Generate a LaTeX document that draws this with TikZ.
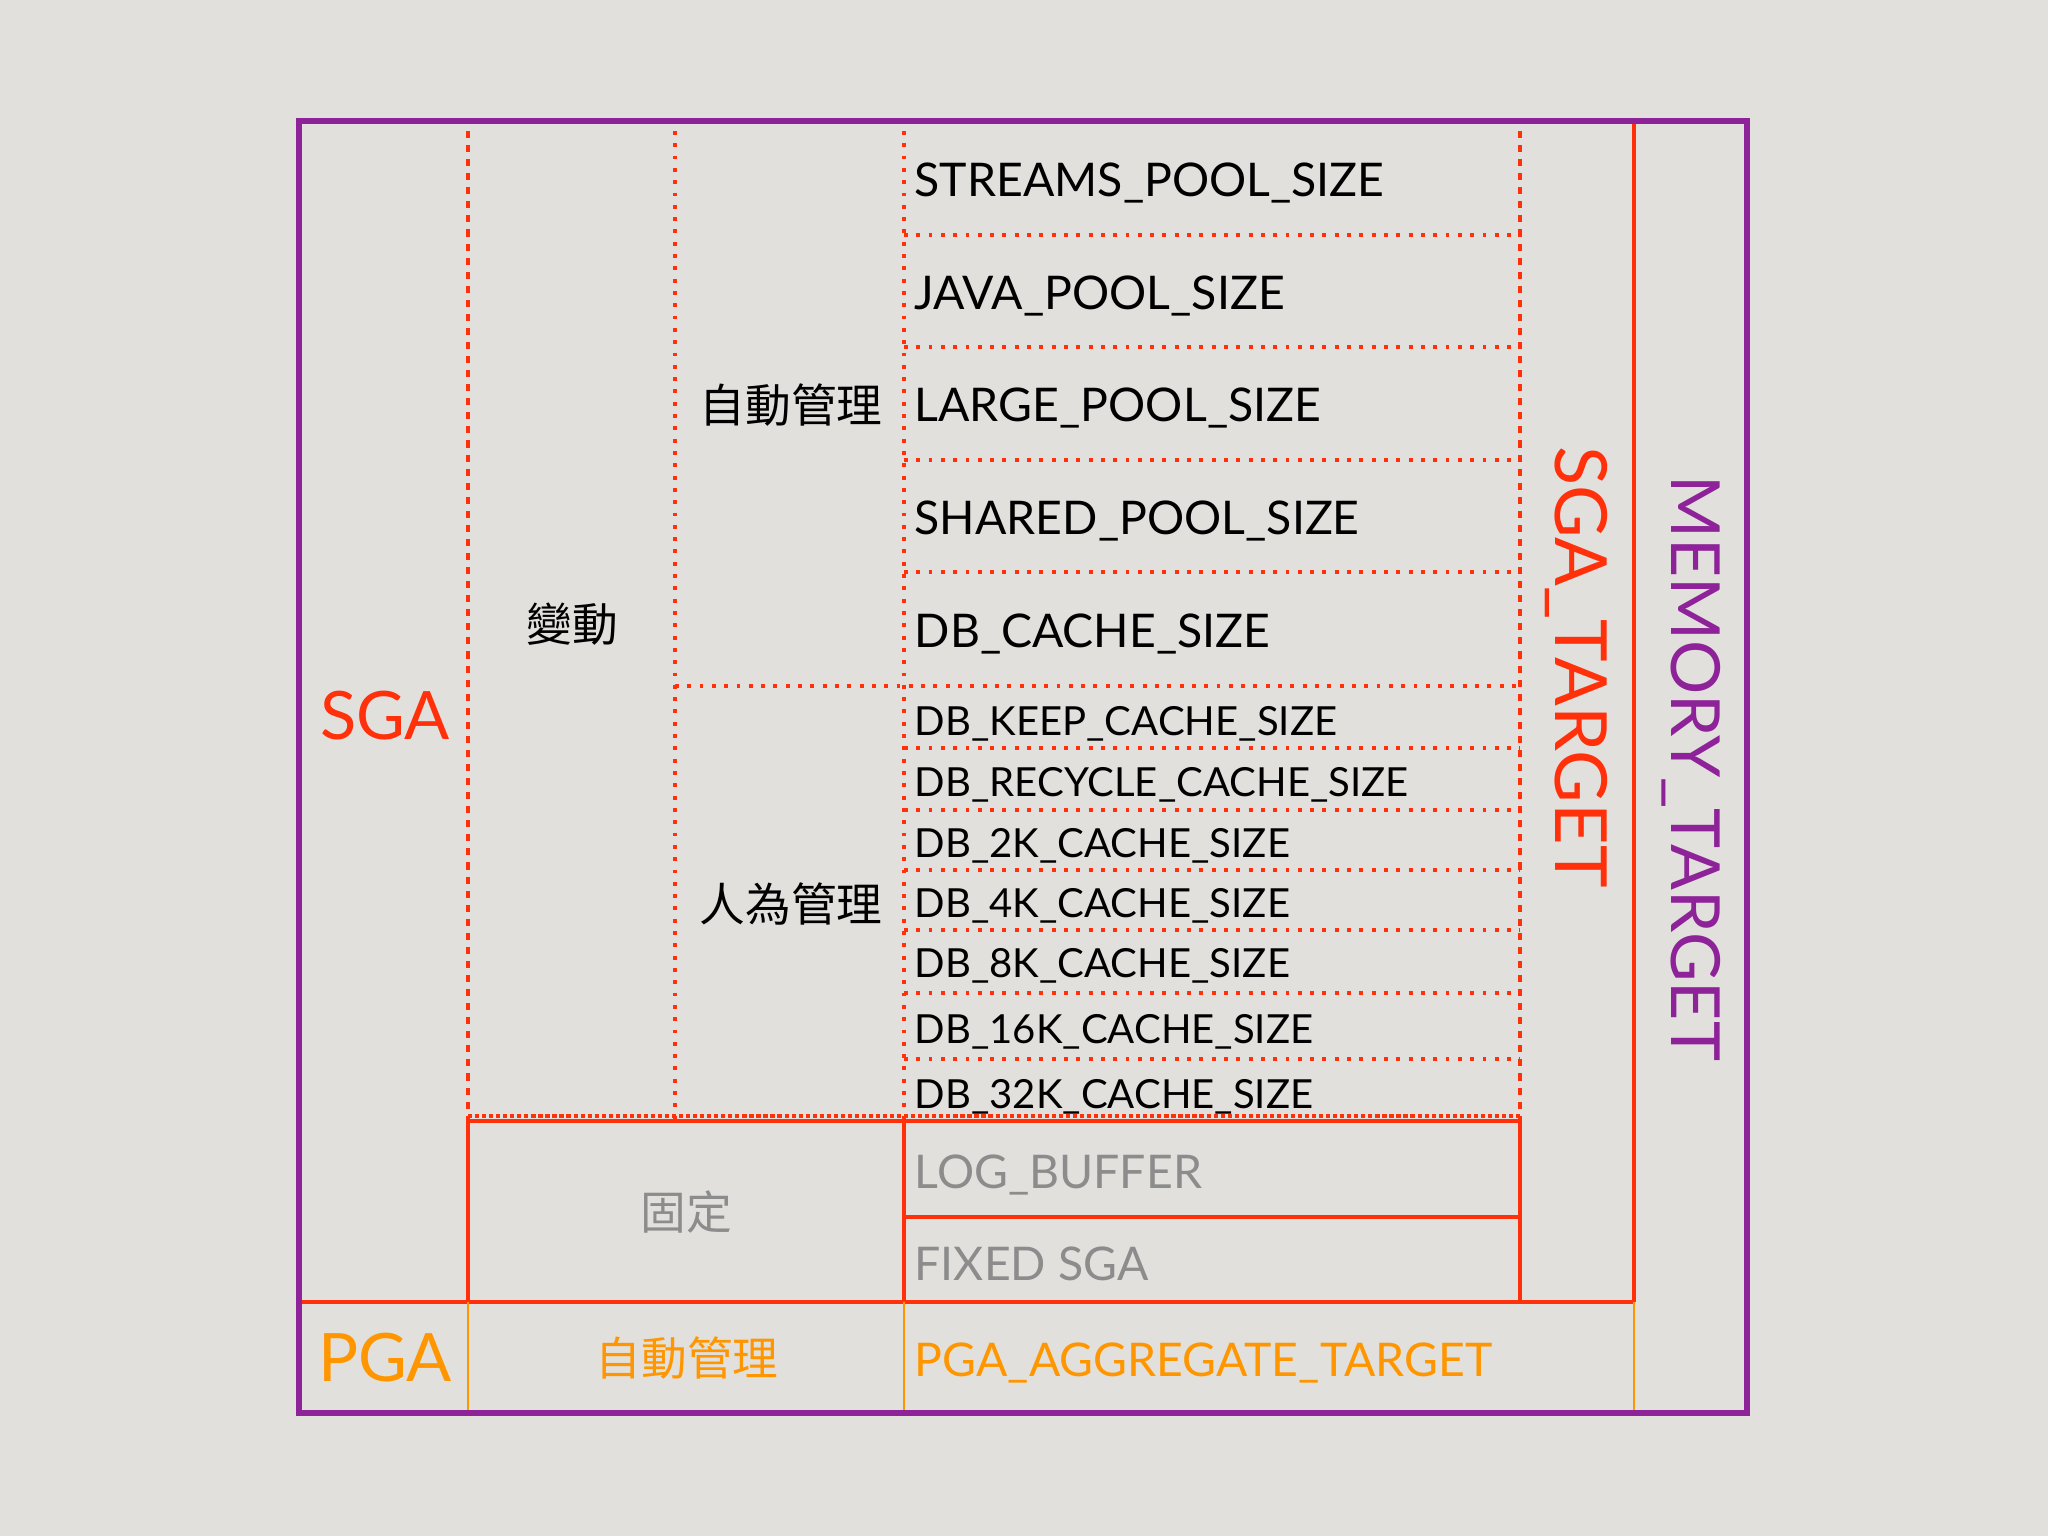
\documentclass[tikz,border=0pt]{standalone}
\usepackage{fontspec}
\setmainfont{Lato}
\newfontfamily\cjk{Noto Sans CJK TC}
\definecolor{memPurple}{RGB}{142,34,152}
\definecolor{sgaRed}{RGB}{255,48,10}
\definecolor{pgaOrange}{RGB}{255,150,0}
\definecolor{fixGray}{RGB}{140,140,140}
\definecolor{paper}{RGB}{226,224,221}

\begin{document}
\begin{tikzpicture}[
						x=0.01cm, y=-0.01cm,
						param/.style = {anchor=base west, inner sep=0pt, font=\fontsize{13.2}{16}\selectfont},
						small/.style = {anchor=base west, inner sep=0pt, font=\fontsize{11.4}{14}\selectfont},
						title/.style = {inner sep=0pt, font=\fontsize{19}{22}\selectfont},
						zh/.style = {inner sep=0pt, font=\cjk\fontsize{13}{16}\selectfont},
						dashline/.style = {sgaRed, line width=1.2pt, dash pattern=on 2pt off 2pt},
						dotline/.style = {sgaRed, line width=1.1pt, dash pattern=on 1.1pt off 2.4pt},
						wall/.style = {sgaRed, line width=1pt},
						pgaline/.style = {pgaOrange, line width=0.7pt}
					]
\useasboundingbox (0,0) rectangle (2048,1536);
\fill[paper] (0,0) rectangle (2048,1536);

% SGA column borders
\draw[dashline] (468,131) -- (468,1119);
\draw[dashline] (1520,131) -- (1520,1119);
\draw[dotline] (675,131) -- (675,1119);
\draw[dotline] (904,131) -- (904,1119);
\draw[dotline] (675,686) -- (1520,686);

% rows
\draw[dotline] (904,235) -- (1520,235);
\draw[dotline] (904,347) -- (1520,347);
\draw[dotline] (904,460) -- (1520,460);
\draw[dotline] (904,572) -- (1520,572);
\draw[dotline] (904,748) -- (1520,748);
\draw[dotline] (904,810) -- (1520,810);
\draw[dotline] (904,870) -- (1520,870);
\draw[dotline] (904,930) -- (1520,930);
\draw[dotline] (904,993) -- (1520,993);
\draw[dotline] (904,1059) -- (1520,1059);
\draw[sgaRed, line width=1.4pt, dash pattern=on 1.2pt off 0.8pt] (468,1116) -- (1520,1116);

% fixed part
\draw[wall] (468,1121) rectangle (1520,1302);
\draw[wall] (904,1121) -- (904,1302);
\draw[wall] (904,1217) -- (1520,1217);
\draw[wall] (299,1302) -- (1634,1302);
\draw[wall] (1634,121) -- (1634,1302);

% PGA
\draw[pgaline] (468,1302) -- (468,1413);
\draw[pgaline] (904,1302) -- (904,1413);
\draw[pgaline] (1634,1302) -- (1634,1413);

\draw[memPurple, line width=1.9pt] (299,121) rectangle (1747,1413);

\node[title, sgaRed] (sga) at (385,716) {SGA};
\node[title, pgaOrange] (pga) at (385,1358) {PGA};
\node[zh] (vary) at (572,624) {變動};
\node[zh] (auto) at (791,405) {自動管理};
\node[zh] (manual) at (791,904) {人為管理};
\node[zh, fixGray] (fixed) at (686,1212) {固定};
\node[zh, pgaOrange] (pgaauto) at (687,1358) {自動管理};

\node[param] (streams) at (914,196) {STREAMS\_POOL\_SIZE};
\node[param] (java) at (914,309) {JAVA\_POOL\_SIZE};
\node[param] (large) at (914,421) {LARGE\_POOL\_SIZE};
\node[param] (shared) at (914,534) {SHARED\_POOL\_SIZE};
\node[param] (cache) at (914,647) {DB\_CACHE\_SIZE};

\node[small] (keep) at (914,735) {DB\_KEEP\_CACHE\_SIZE};
\node[small] (recycle) at (914,796) {DB\_RECYCLE\_CACHE\_SIZE};
\node[small] (c2k) at (914,857) {DB\_2K\_CACHE\_SIZE};
\node[small] (c4k) at (914,917) {DB\_4K\_CACHE\_SIZE};
\node[small] (c8k) at (914,977) {DB\_8K\_CACHE\_SIZE};
\node[small] (c16k) at (914,1043) {DB\_16K\_CACHE\_SIZE};
\node[small] (c32k) at (914,1108) {DB\_32K\_CACHE\_SIZE};

\node[param, fixGray] (logbuf) at (914,1188) {LOG\_BUFFER};
\node[param, fixGray] (fixsga) at (914,1280) {FIXED SGA};
\node[param, pgaOrange] (pgatarget) at (914,1376) {PGA\_AGGREGATE\_TARGET};

\node[title, sgaRed, rotate=-90, font=\fontsize{20.5}{24}\selectfont] (sgatarget) at (1576,667) {SGA\_TARGET};
\node[title, memPurple, rotate=-90, font=\fontsize{19.3}{23}\selectfont] (memtarget) at (1691,768) {MEMORY\_TARGET};
\end{tikzpicture}
\end{document}
